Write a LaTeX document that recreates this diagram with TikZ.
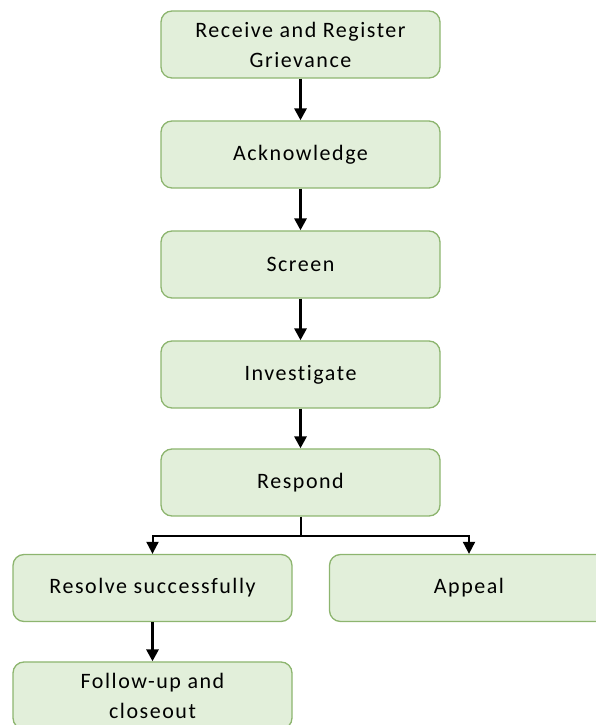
\documentclass[tikz,border=0pt]{standalone}
\usepackage{fontspec}
\setmainfont[LetterSpace=7,Ligatures={NoCommon}]{Carlito}
\usetikzlibrary{arrows.meta}
\definecolor{boxfill}{HTML}{E2EFDA}
\definecolor{boxline}{HTML}{8DB56F}
\tikzset{
  stepbox/.style={draw=boxline, line width=1.3pt, fill=boxfill, rounded corners=11pt,
    minimum width=279pt, minimum height=67pt, align=center, inner sep=2pt,
    font=\fontsize{22pt}{30pt}\selectfont, text=black},
  flow/.style={-{Triangle[width=12pt,length=12pt]}, line width=3pt},
  branch/.style={-{Triangle[width=12pt,length=12pt]}, line width=2pt}
}
\begin{document}
\begin{tikzpicture}[x=1pt,y=1pt]
\clip (0,0) rectangle (596,725);
\useasboundingbox (0,0) rectangle (596,725);
\node[stepbox] (b1) at (300.5,680.5) {Receive and Register\\Grievance};
\node[stepbox] (b2) at (300.5,570.5) {Acknowledge};
\node[stepbox] (b3) at (300.5,460.5) {Screen};
\node[stepbox] (b4) at (300.5,350.5) {Investigate};
\node[stepbox] (b5) at (300.5,242.5) {Respond};
\node[stepbox] (res) at (152.5,137) {Resolve successfully};
\node[stepbox] (app) at (469,137) {Appeal};
\node[stepbox] (fol) at (152.5,29.5) {Follow-up and\\closeout};
\draw[flow] (b1) -- (b2);
\draw[flow] (b2) -- (b3);
\draw[flow] (b3) -- (b4);
\draw[flow] (b4) -- (b5);
\draw[line width=2pt] (b5.south) -- ++(0,-19) coordinate (j);
\draw[branch] (j) -| (res.north);
\draw[branch] (j) -| (app.north);
\draw[flow] (res) -- (fol);
\end{tikzpicture}
\end{document}
